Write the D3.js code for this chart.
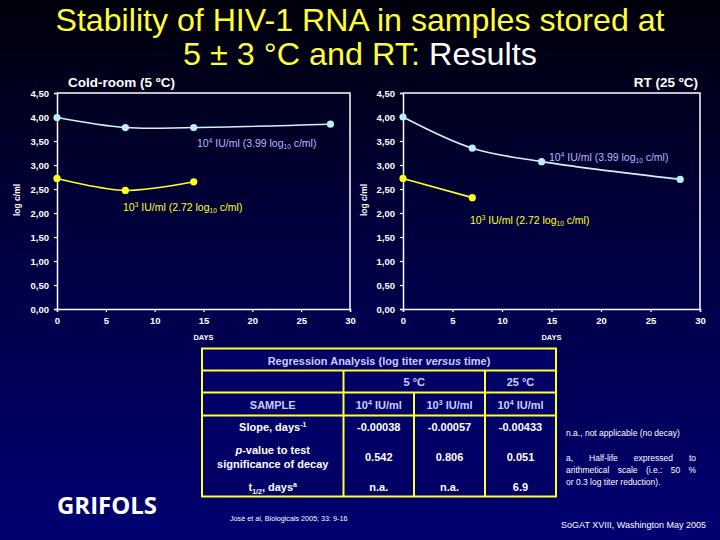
<!DOCTYPE html>
<html><head><meta charset="utf-8">
<script src="https://cdn.jsdelivr.net/npm/d3@7"></script>
<style>html,body{margin:0;padding:0;background:#000;}svg{display:block;}</style>
</head><body>
<script>
// ---- data ----
const days = [0, 7, 14, 28];
const coldHigh = [3.99, 3.78, 3.78, 3.85];   // 10^4 IU/ml at 5 ºC
const coldLow  = [2.72, 2.47, 2.65];         // 10^3 IU/ml at 5 ºC
const rtHigh   = [4.00, 3.35, 3.07, 2.70];   // 10^4 IU/ml at 25 ºC
const rtLow    = [2.72, 2.32];               // 10^3 IU/ml at 25 ºC
const yTicks = [0, 0.5, 1, 1.5, 2, 2.5, 3, 3.5, 4, 4.5];
const xTicks = [0, 5, 10, 15, 20, 25, 30];
const tableHead = ["SAMPLE", "10|4| IU/ml", "10|3| IU/ml", "10|4| IU/ml"];
const tempGroups = ["5 °C", "25 °C"];
const slopes = ["-0.00038", "-0.00057", "-0.00433"];
const pValues = ["0.542", "0.806", "0.051"];
const halfLives = ["n.a.", "n.a.", "6.9"];

const W = 720, H = 540;
const svg = d3.select("body").append("svg").attr("width", W).attr("height", H);
const defs = svg.append("defs");
const g = defs.append("linearGradient").attr("id", "bg").attr("x1", 0).attr("y1", 0).attr("x2", 0).attr("y2", 1);
g.append("stop").attr("offset", "0%").attr("stop-color", "#00000a");
g.append("stop").attr("offset", "45%").attr("stop-color", "#000040");
g.append("stop").attr("offset", "100%").attr("stop-color", "#000072");
svg.append("rect").attr("width", W).attr("height", H).attr("fill", "url(#bg)");

const FONT = "'Liberation Sans', Arial, sans-serif";

// ---- title ----
svg.append("text").attr("x", 360).attr("y", 31).attr("text-anchor", "middle")
  .attr("font-family", FONT).attr("font-size", 30.5).attr("fill", "#ffff33")
  .attr("textLength", 609).attr("lengthAdjust", "spacingAndGlyphs")
  .text("Stability of HIV-1 RNA in samples stored at");
const t2 = svg.append("text").attr("x", 360).attr("y", 65).attr("text-anchor", "middle")
  .attr("font-family", FONT).attr("font-size", 30.5).attr("fill", "#ffff33")
  .attr("textLength", 354).attr("lengthAdjust", "spacingAndGlyphs");
t2.append("tspan").text("5 ± 3 °C and RT: ");
t2.append("tspan").attr("fill", "#ffffff").text("Results");

// ---- charts ----
function chart(opt) {
  const x = d3.scaleLinear().domain([0, 30]).range([opt.x0, opt.x1]);
  const y = d3.scaleLinear().domain([0, 4.5]).range([309, 93]);
  const gc = svg.append("g");
  gc.append("path").attr("d", `M${x(0)},${y(4.5)}H${x(30)}V${y(0)}`)
    .attr("fill", "none").attr("stroke", "#fff").attr("stroke-width", 1.5);
  const ya = gc.append("g").attr("transform", `translate(${x(0)},0)`)
    .call(d3.axisLeft(y).tickValues(yTicks).tickSize(3).tickPadding(5)
      .tickFormat(d => d3.format(".2f")(d).replace(".", ",")));
  const xa = gc.append("g").attr("transform", `translate(0,${y(0)})`)
    .call(d3.axisBottom(x).tickValues(xTicks).tickSize(3).tickPadding(5));
  [ya, xa].forEach(a => {
    a.select(".domain").attr("stroke", "#fff").attr("stroke-width", 1.5);
    a.selectAll(".tick line").attr("stroke", "#fff").attr("stroke-width", 1.2);
    a.selectAll("text").attr("fill", "#fff").attr("font-family", FONT)
      .attr("font-weight", "bold").attr("font-size", 9.5);
  });
  gc.append("text").attr("x", (x(0) + x(30)) / 2).attr("y", 339.5).attr("text-anchor", "middle")
    .attr("font-family", FONT).attr("font-weight", "bold").attr("font-size", 7.5).attr("fill", "#fff")
    .text("DAYS");
  gc.append("text").attr("transform", `translate(${opt.ylabX},200) rotate(-90)`).attr("text-anchor", "middle")
    .attr("font-family", FONT).attr("font-weight", "bold").attr("font-size", 8.5).attr("fill", "#fff")
    .text("log c/ml");
  gc.append("text").attr("x", opt.titleX).attr("y", 87).attr("text-anchor", opt.titleAnchor)
    .attr("font-family", FONT).attr("font-weight", "bold").attr("font-size", 13.5).attr("fill", "#fff")
    .text(opt.title);

  const line = d3.line().x(d => x(d[0])).y(d => y(d[1])).curve(d3.curveCatmullRom.alpha(0.5));
  opt.series.forEach(s => {
    const pts = s.values.map((v, i) => [days[i], v]);
    gc.append("path").attr("d", line(pts)).attr("fill", "none")
      .attr("stroke", s.line).attr("stroke-width", 1.6);
    gc.selectAll(null).data(pts).enter().append("circle")
      .attr("cx", d => x(d[0])).attr("cy", d => y(d[1])).attr("r", 3.6).attr("fill", s.marker);
    const t = gc.append("text").attr("x", s.lx).attr("y", s.ly)
      .attr("font-family", FONT).attr("font-size", 10.5).attr("fill", s.label);
    t.append("tspan").text("10");
    t.append("tspan").attr("font-size", 6.5).attr("dy", -4).text(s.exp);
    t.append("tspan").attr("dy", 4).text(" IU/ml (" + s.log + " log");
    t.append("tspan").attr("font-size", 6.5).attr("dy", 2).text("10");
    t.append("tspan").attr("dy", -2).text(" c/ml)");
  });
}

const CYAN_L = "#d4f2fb", CYAN_M = "#bdeef8", LAV = "#b8b8ff", YEL = "#ffff22";
chart({x0: 57, x1: 350, ylabX: 20, title: "Cold-room (5 ºC)", titleX: 68, titleAnchor: "start",
  series: [
    {values: coldHigh, line: CYAN_L, marker: CYAN_M, label: LAV, exp: "4", log: "3.99", lx: 197, ly: 147},
    {values: coldLow, line: YEL, marker: YEL, label: YEL, exp: "3", log: "2.72", lx: 123, ly: 211}
  ]});
chart({x0: 403, x1: 700, ylabX: 367, title: "RT (25 ºC)", titleX: 698, titleAnchor: "end",
  series: [
    {values: rtHigh, line: CYAN_L, marker: CYAN_M, label: LAV, exp: "4", log: "3.99", lx: 549, ly: 161},
    {values: rtLow, line: YEL, marker: YEL, label: YEL, exp: "3", log: "2.72", lx: 470, ly: 224}
  ]});

// ---- table ----
const tb = svg.append("g");
const TX0 = 202, TX1 = 556, TY0 = 348.5, TY1 = 496.5;
const colX = [TX0, 343.5, 414, 485, TX1];
const rowY = [TY0, 370.5, 392.5, 415.5, TY1];
const Y2 = "#ffff33";
tb.append("rect").attr("x", TX0).attr("y", TY0).attr("width", TX1 - TX0).attr("height", TY1 - TY0)
  .attr("fill", "#000066").attr("stroke", Y2).attr("stroke-width", 2);
[rowY[1], rowY[2], rowY[3]].forEach(yy =>
  tb.append("line").attr("x1", TX0).attr("x2", TX1).attr("y1", yy).attr("y2", yy).attr("stroke", Y2).attr("stroke-width", 2));
tb.append("line").attr("x1", colX[1]).attr("x2", colX[1]).attr("y1", rowY[1]).attr("y2", TY1).attr("stroke", Y2).attr("stroke-width", 2);
tb.append("line").attr("x1", colX[2]).attr("x2", colX[2]).attr("y1", rowY[2]).attr("y2", TY1).attr("stroke", Y2).attr("stroke-width", 2);
tb.append("line").attr("x1", colX[3]).attr("x2", colX[3]).attr("y1", rowY[1]).attr("y2", TY1).attr("stroke", Y2).attr("stroke-width", 2);

const HDR = "#ccccff";
function ttext(x, y, txt, color, size, weight) {
  return tb.append("text").attr("x", x).attr("y", y).attr("text-anchor", "middle")
    .attr("font-family", FONT).attr("font-weight", weight || "bold").attr("font-size", size || 11)
    .attr("fill", color || "#fff").text(txt);
}
const th = ttext((TX0 + TX1) / 2, 364.5, null, HDR, 11);
th.append("tspan").text("Regression Analysis (log titer ");
th.append("tspan").attr("font-style", "italic").text("versus");
th.append("tspan").text(" time)");
ttext((colX[1] + colX[3]) / 2, 386, tempGroups[0], HDR, 11);
ttext((colX[3] + colX[4]) / 2, 386, tempGroups[1], HDR, 11);
tableHead.forEach((h, i) => {
  const cx = (colX[i] + colX[i + 1]) / 2;
  const parts = h.split("|");
  const t = ttext(cx, 408.5, null, HDR, 11);
  t.append("tspan").text(parts[0]);
  if (parts.length > 1) {
    t.append("tspan").attr("font-size", 7).attr("dy", -4).text(parts[1]);
    t.append("tspan").attr("dy", 4).text(parts[2]);
  }
});
const sl = ttext((colX[0] + colX[1]) / 2, 431, null, "#fff", 11);
sl.append("tspan").text("Slope, days");
sl.append("tspan").attr("font-size", 7).attr("dy", -4).text("-1");
const pv = ttext((colX[0] + colX[1]) / 2, 454, null, "#fff", 11);
pv.append("tspan").attr("font-style", "italic").text("p");
pv.append("tspan").text("-value to test");
ttext((colX[0] + colX[1]) / 2, 468, "significance of decay", "#fff", 11);
const hl = ttext((colX[0] + colX[1]) / 2, 490.5, null, "#fff", 11);
hl.append("tspan").text("t");
hl.append("tspan").attr("font-size", 7).attr("dy", 3).text("1/2");
hl.append("tspan").attr("dy", -3).text(", days");
hl.append("tspan").attr("font-size", 7).attr("dy", -4).text("a");
[slopes, pValues, halfLives].forEach((arr, r) => {
  const yy = [431, 461, 490.5][r];
  arr.forEach((v, i) => ttext((colX[i + 1] + colX[i + 2]) / 2, yy, v, "#fff", 11));
});

// ---- footnotes ----
const fn = svg.append("g").attr("font-family", FONT).attr("fill", "#fff").attr("font-size", 8.5);
fn.append("text").attr("x", 566).attr("y", 436).text("n.a., not applicable (no decay)");
function justified(txt, yy) {
  const t = fn.append("text").attr("x", 566).attr("y", yy).text(txt);
  const len = t.node().getComputedTextLength();
  const gaps = txt.split(" ").length - 1;
  t.attr("word-spacing", (130 - len) / gaps);
}
justified("a, Half-life expressed to", 461);
justified("arithmetical scale (i.e.: 50 %", 473);
fn.append("text").attr("x", 566).attr("y", 485).text("or 0.3 log titer reduction).");
fn.append("text").attr("x", 706).attr("y", 527.5).attr("text-anchor", "end").attr("font-size", 9)
  .text("SoGAT XVIII, Washington  May 2005");
fn.append("text").attr("x", 230).attr("y", 521).attr("font-size", 7.2).text("José et al, Biologicals 2005; 33: 9-16");

svg.append("text").attr("x", 57).attr("y", 514).attr("font-family", "'Open Sans', sans-serif")
  .attr("font-weight", "bold").attr("font-size", 23).attr("fill", "#fff")
  .attr("textLength", 100).attr("lengthAdjust", "spacingAndGlyphs").text("GRIFOLS");
</script>
</body></html>
